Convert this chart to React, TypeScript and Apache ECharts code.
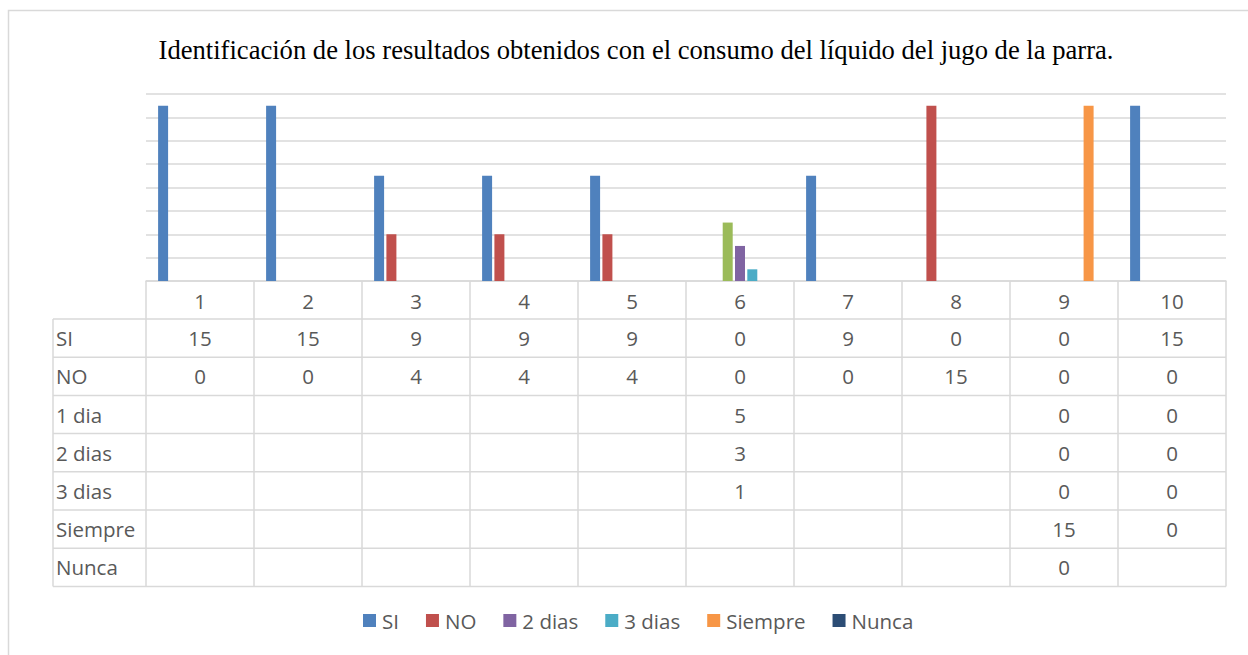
import React, { useEffect, useRef } from "react";
import * as echarts from "echarts";

const categories = ["1", "2", "3", "4", "5", "6", "7", "8", "9", "10"];
const seriesNames = ["SI", "NO", "1 dia", "2 dias", "3 dias", "Siempre", "Nunca"];
const legendNames = ["SI", "NO", "2 dias", "3 dias", "Siempre", "Nunca"];
const siValues = [15, 15, 9, 9, 9, 0, 9, 0, 0, 15];
const noValues = [0, 0, 4, 4, 4, 0, 0, 15, 0, 0];
const unDiaValues = [null, null, null, null, null, 5, null, null, 0, 0];
const dosDiasValues = [null, null, null, null, null, 3, null, null, 0, 0];
const tresDiasValues = [null, null, null, null, null, 1, null, null, 0, 0];
const siempreValues = [null, null, null, null, null, null, null, null, 15, 0];
const nuncaValues = [null, null, null, null, null, null, null, null, 0, null];
const colors = ["#4F81BD", "#C0504D", "#9BBB59", "#8064A2", "#4BACC6", "#F79646", "#2C4D75"];
const titleText = "Identificación de los resultados obtenidos con el consumo del líquido del jugo de la parra.";

const allValues = [siValues, noValues, unDiaValues, dosDiasValues, tresDiasValues, siempreValues, nuncaValues];

export default function App() {
  const ref = useRef<HTMLDivElement>(null);
  useEffect(() => {
    const chart = echarts.init(ref.current!, null, { renderer: "svg" });
    const W = 1248;
    const gridLeft = 146;
    const gridRight = 1226;
    const gridTop = 94;
    const baseY = 281;
    const rowH = 38.2;
    const tableLeft = 53;
    const colW = (gridRight - gridLeft) / categories.length;
    const headerBottom = 319;
    const tableBottom = headerBottom + rowH * seriesNames.length;
    const lineColor = "#d9d9d9";
    const textColor = "#595959";
    const tFont = "'Open Sans', sans-serif";
    const fs = 20.5;

    const graphics: any[] = [];
    graphics.push({
      type: "rect",
      shape: { x: 8.5, y: 10.5, width: 1260, height: 660 },
      style: { fill: "none", stroke: lineColor, lineWidth: 1.5 },
      silent: true,
    });
    for (let i = 0; i <= seriesNames.length; i++) {
      const y = headerBottom + rowH * i;
      graphics.push({
        type: "line",
        shape: { x1: tableLeft, y1: y, x2: gridRight, y2: y },
        style: { stroke: lineColor, lineWidth: 1.5 },
        silent: true,
      });
    }
    graphics.push({
      type: "line",
      shape: { x1: tableLeft, y1: headerBottom, x2: tableLeft, y2: tableBottom },
      style: { stroke: lineColor, lineWidth: 1.5 },
      silent: true,
    });
    seriesNames.forEach((name, i) => {
      const cy = headerBottom + rowH * i + rowH / 2;
      graphics.push({
        type: "text",
        x: tableLeft + 3,
        y: cy,
        style: { text: name, fill: textColor, font: `${fs}px ${tFont}`, textVerticalAlign: "middle" },
        silent: true,
      });
      allValues[i].forEach((v, j) => {
        if (v === null) return;
        graphics.push({
          type: "text",
          x: gridLeft + colW * j + colW / 2,
          y: cy,
          style: {
            text: String(v),
            fill: textColor,
            font: `${fs}px ${tFont}`,
            textAlign: "center",
            textVerticalAlign: "middle",
          },
          silent: true,
        });
      });
    });

    chart.setOption({
      animation: false,
      color: colors,
      title: {
        text: titleText,
        left: 631,
        top: 31,
        textAlign: "center",
        textStyle: {
          fontFamily: "'Liberation Serif', serif",
          fontWeight: "normal",
          fontSize: 26.6,
          color: "#000000",
        },
      },
      legend: {
        data: legendNames,
        left: 358,
        top: 605,
        itemWidth: 13,
        itemHeight: 13,
        itemGap: 27,
        icon: "rect",
        textStyle: { fontFamily: tFont, fontSize: fs, color: textColor, padding: [0, 0, 0, 1] },
      },
      grid: { left: gridLeft, right: W - gridRight, top: gridTop, bottom: 655 - baseY },
      xAxis: {
        type: "category",
        data: categories,
        axisLine: { lineStyle: { color: lineColor, width: 1.5 } },
        axisTick: { show: true, length: tableBottom - baseY, lineStyle: { color: lineColor, width: 1.5 } },
        axisLabel: { margin: 9, fontFamily: tFont, fontSize: fs, color: textColor },
      },
      yAxis: {
        type: "value",
        min: 0,
        max: 16,
        interval: 2,
        axisLabel: { show: false },
        axisLine: { show: false },
        axisTick: { show: false },
        splitLine: { lineStyle: { color: lineColor, width: 1.5 } },
      },
      graphic: graphics,
      series: seriesNames.map((name, i) => ({
        name,
        type: "bar",
        data: allValues[i],
        barWidth: 10,
        barGap: "23%",
        itemStyle: { color: colors[i] },
      })),
    });
    return () => chart.dispose();
  }, []);
  return (
    <div style={{ position: "absolute", left: 0, top: 0, width: 1248, height: 655, background: "#fff" }}>
      <div ref={ref} style={{ width: 1248, height: 655 }} />
    </div>
  );
}
